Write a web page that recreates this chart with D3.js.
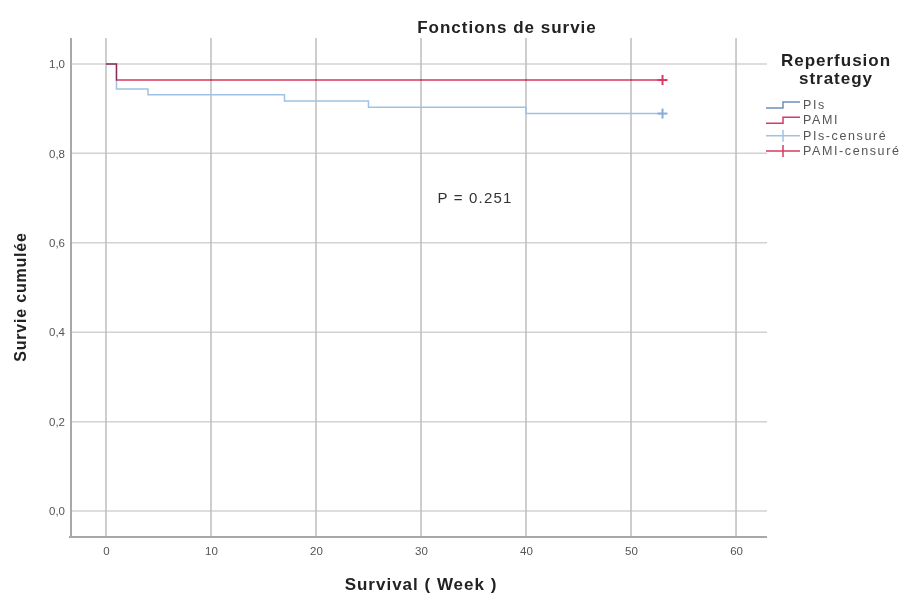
<!DOCTYPE html>
<html>
<head>
<meta charset="utf-8">
<script src="https://cdn.jsdelivr.net/npm/d3@7"></script>
<style>
  body { margin: 0; background: #fff; }
  text { font-family: "Liberation Sans", Arial, sans-serif; }
</style>
</head>
<body>
<div id="viz"></div>
<script>
//-------Data----------------------------------
var xTicks = [0, 10, 20, 30, 40, 50, 60];
var yTicks = [0, 0.2, 0.4, 0.6, 0.8, 1.0];
var yTickLabels = ["0,0", "0,2", "0,4", "0,6", "0,8", "1,0"];

var pisTimes = [0, 1, 4, 17, 25, 40, 53];
var pisSurv  = [1, 0.944, 0.931, 0.917, 0.903, 0.889, 0.889];
var pamiTimes = [0, 1, 53];
var pamiSurv  = [1, 0.964, 0.964];

var pisCensored  = [[53, 0.889]];
var pamiCensored = [[53, 0.964]];

var legendLabels = ["PIs", "PAMI", "PIs-censuré", "PAMI-censuré"];
var pValue = "P = 0.251";

//---------------------------------
var width = 903,
    height = 597;
var plotLeft = 71, plotRight = 767, plotTop = 38, plotBottom = 537;

var pisColor = "#9fc2e4",
    pamiColor = "#d93a62",
    pisLegend = "#6d8fb8";

var svg = d3.select("#viz")
  .append("svg")
    .attr("width", width)
    .attr("height", height);

//------Scales-----------
var xScale = d3.scaleLinear()
    .domain([-3.33, 62.95])
    .range([plotLeft, plotRight]);

var yScale = d3.scaleLinear()
    .domain([-0.058, 1.058])
    .range([plotBottom, plotTop]);

//------Grid-----------
svg.append("g").selectAll("line")
    .data(yTicks)
    .enter()
    .append("line")
    .attr("x1", plotLeft)
    .attr("x2", plotRight)
    .attr("y1", d => yScale(d))
    .attr("y2", d => yScale(d))
    .style("stroke", "#d2d2d2")
    .style("stroke-width", "1.5px");

svg.append("g").selectAll("line")
    .data(xTicks)
    .enter()
    .append("line")
    .attr("x1", d => xScale(d))
    .attr("x2", d => xScale(d))
    .attr("y1", plotTop)
    .attr("y2", plotBottom)
    .style("stroke", "#bdbdbd")
    .style("stroke-width", "1.5px");

// axis lines
svg.append("line")
    .attr("x1", plotLeft).attr("x2", plotLeft)
    .attr("y1", plotTop).attr("y2", plotBottom)
    .style("stroke", "#a8a8a8").style("stroke-width", "2px");
svg.append("line")
    .attr("x1", plotLeft - 2).attr("x2", plotRight)
    .attr("y1", plotBottom).attr("y2", plotBottom)
    .style("stroke", "#a8a8a8").style("stroke-width", "2px");

//------Tick labels-----------
var yAxis = d3.axisLeft(yScale)
    .tickValues(yTicks)
    .tickFormat((d, i) => yTickLabels[i])
    .tickSize(0)
    .tickPadding(6);
var gY = svg.append("g")
    .attr("transform", "translate(" + plotLeft + ",0)")
    .call(yAxis);

var xAxis = d3.axisBottom(xScale)
    .tickValues(xTicks)
    .tickSize(0)
    .tickPadding(10);
var gX = svg.append("g")
    .attr("transform", "translate(0," + plotBottom + ")")
    .call(xAxis);

[gX, gY].forEach(g => {
  g.select(".domain").remove();
  g.selectAll("text")
    .style("font-family", "'Liberation Sans', Arial, sans-serif")
    .style("font-size", "11.5px")
    .style("fill", "#555");
});

//------Curves-----------
var line = d3.line()
    .x(d => xScale(d[0]))
    .y(d => yScale(d[1]))
    .curve(d3.curveStepAfter);

svg.append("path")
    .datum(pisTimes.map((t, i) => [t, pisSurv[i]]))
    .attr("d", line)
    .style("fill", "none")
    .style("stroke", pisColor)
    .style("stroke-width", "1.5px");

svg.append("path")
    .datum(pamiTimes.map((t, i) => [t, pamiSurv[i]]))
    .attr("d", line)
    .style("fill", "none")
    .style("stroke", pamiColor)
    .style("stroke-width", "1.5px")
    .style("mix-blend-mode", "multiply");

function censorMarks(data, color) {
  var g = svg.append("g");
  data.forEach(d => {
    var cx = xScale(d[0]), cy = yScale(d[1]);
    g.append("line").attr("x1", cx - 5).attr("x2", cx + 5).attr("y1", cy).attr("y2", cy)
      .style("stroke", color).style("stroke-width", "2px");
    g.append("line").attr("x1", cx).attr("x2", cx).attr("y1", cy - 5).attr("y2", cy + 5)
      .style("stroke", color).style("stroke-width", "2px");
  });
}
censorMarks(pisCensored, "#86acd8");
censorMarks(pamiCensored, pamiColor);

//------Texts-----------
svg.append("text")
    .attr("x", 507).attr("y", 33)
    .attr("text-anchor", "middle")
    .style("font-size", "17px").style("font-weight", "bold")
    .style("letter-spacing", "1px")
    .style("fill", "#222")
    .text("Fonctions de survie");

svg.append("text")
    .attr("x", 421).attr("y", 590)
    .attr("text-anchor", "middle")
    .style("font-size", "17px").style("font-weight", "bold")
    .style("letter-spacing", "1px")
    .style("fill", "#222")
    .text("Survival ( Week )");

svg.append("text")
    .attr("transform", "translate(26,297) rotate(-90)")
    .attr("text-anchor", "middle")
    .style("font-size", "16px").style("font-weight", "bold")
    .style("letter-spacing", "0.8px")
    .style("fill", "#222")
    .text("Survie cumulée");

svg.append("text")
    .attr("x", 475).attr("y", 203)
    .attr("text-anchor", "middle")
    .style("font-size", "15px")
    .style("letter-spacing", "1.2px")
    .style("fill", "#333")
    .text(pValue);

//------Legend-----------
var legend = svg.append("g");
legend.append("text")
    .attr("x", 836).attr("y", 66)
    .attr("text-anchor", "middle")
    .style("font-size", "17px").style("font-weight", "bold")
    .style("letter-spacing", "1px")
    .style("fill", "#222")
    .text("Reperfusion");
legend.append("text")
    .attr("x", 836).attr("y", 84)
    .attr("text-anchor", "middle")
    .style("font-size", "17px").style("font-weight", "bold")
    .style("letter-spacing", "1px")
    .style("fill", "#222")
    .text("strategy");

var legendY = d3.scalePoint()
    .domain(legendLabels)
    .range([105, 151]);
var legendColors = [pisLegend, pamiColor, "#9fc2e4", pamiColor];

legendLabels.forEach((lab, i) => {
  var y = legendY(lab);
  var c = legendColors[i];
  if (i < 2) {
    legend.append("path")
      .attr("d", "M766," + (y + 3) + "H783V" + (y - 3) + "H800")
      .style("fill", "none").style("stroke", c).style("stroke-width", "1.5px");
  } else {
    legend.append("line").attr("x1", 766).attr("x2", 800).attr("y1", y).attr("y2", y)
      .style("stroke", c).style("stroke-width", "1.5px");
    legend.append("line").attr("x1", 783).attr("x2", 783).attr("y1", y - 6).attr("y2", y + 6)
      .style("stroke", c).style("stroke-width", "1.5px");
  }
  legend.append("text")
    .attr("x", 803).attr("y", y + 4)
    .style("font-size", "12.5px")
    .style("letter-spacing", "1.6px")
    .style("fill", "#555")
    .text(lab);
});
</script>
</body>
</html>
